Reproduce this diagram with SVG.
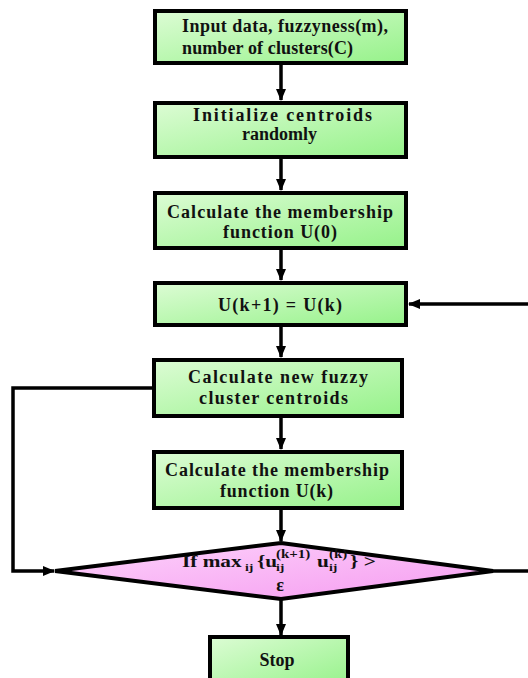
<svg xmlns="http://www.w3.org/2000/svg" width="528" height="678" viewBox="0 0 528 678">
<defs>
<linearGradient id="g" x1="0" y1="0" x2="1" y2="1">
<stop offset="0" stop-color="#dcfcd4"/>
<stop offset="1" stop-color="#96f28a"/>
</linearGradient>
<linearGradient id="p" x1="0" y1="0" x2="1" y2="1">
<stop offset="0" stop-color="#fdd2fb"/>
<stop offset="1" stop-color="#f59cf0"/>
</linearGradient>
<marker id="a" markerWidth="12" markerHeight="10" refX="11" refY="5" orient="auto" markerUnits="userSpaceOnUse">
<path d="M0,0 L12,5 L0,10 Z" fill="#000"/>
</marker>
</defs>
<style>
.box{fill:url(#g);stroke:#000;stroke-width:4}
.dia{fill:url(#p);stroke:#000;stroke-width:4}
.t{font-family:"Liberation Serif","Times New Roman",serif;font-weight:bold;font-size:18px;fill:#111}
.m{font-size:17px}
.s{font-size:11px}
.u{font-size:12px}
.c{text-anchor:middle}
.ln{fill:none;stroke:#000;stroke-width:3.5}
</style>
<g id="connectors">
<line class="ln" x1="281" y1="63" x2="281" y2="100" marker-end="url(#a)"/>
<line class="ln" x1="281" y1="157" x2="281" y2="190" marker-end="url(#a)"/>
<line class="ln" x1="281" y1="248" x2="281" y2="280" marker-end="url(#a)"/>
<line class="ln" x1="281" y1="325" x2="281" y2="357" marker-end="url(#a)"/>
<line class="ln" x1="281" y1="416" x2="281" y2="449" marker-end="url(#a)"/>
<line class="ln" x1="281" y1="508" x2="281" y2="541" marker-end="url(#a)"/>
<line class="ln" x1="281" y1="599" x2="281" y2="635" marker-end="url(#a)"/>
<path class="ln" d="M153,388 H13 V571 H54" marker-end="url(#a)"/>
<line class="ln" x1="528" y1="304" x2="409" y2="304" marker-end="url(#a)"/>
<line class="ln" x1="493" y1="571" x2="528" y2="571"/>
</g>
<g id="n1">
<rect class="box" x="155" y="11" width="251" height="52"/>
<text class="t" x="182" y="32" textLength="206" lengthAdjust="spacing">Input data, fuzzyness(m),</text>
<text class="t" x="182" y="54" textLength="171" lengthAdjust="spacing">number of clusters(C)</text>
</g>
<g id="n2">
<rect class="box" x="155" y="103" width="251" height="54"/>
<text class="t" x="193" y="121" textLength="179" lengthAdjust="spacing">Initialize centroids</text>
<text class="t" x="242" y="140" textLength="75" lengthAdjust="spacing">randomly</text>
</g>
<g id="n3">
<rect class="box" x="155" y="193" width="251" height="55"/>
<text class="t" x="167" y="218" textLength="226" lengthAdjust="spacing">Calculate the membership</text>
<text class="t" x="223" y="238" textLength="114" lengthAdjust="spacing">function U(0)</text>
</g>
<g id="n4">
<rect class="box" x="155" y="283" width="251" height="42"/>
<text class="t" x="218" y="311" textLength="124" lengthAdjust="spacing">U(k+1) = U(k)</text>
</g>
<g id="n5">
<rect class="box" x="154" y="360" width="248" height="56"/>
<text class="t" x="188" y="383" textLength="180" lengthAdjust="spacing">Calculate new fuzzy</text>
<text class="t" x="199" y="404" textLength="149" lengthAdjust="spacing">cluster centroids</text>
</g>
<g id="n6">
<rect class="box" x="154" y="452" width="248" height="56"/>
<text class="t" x="165" y="476" textLength="224" lengthAdjust="spacing">Calculate the membership</text>
<text class="t" x="220" y="497" textLength="113" lengthAdjust="spacing">function U(k)</text>
</g>
<g id="n7">
<polygon class="dia" points="281,543 493,571 281,599 55,571"/>
<text class="t m" transform="translate(182,0) scale(1.25,1)"><tspan x="0" y="567">If max</tspan><tspan class="s" x="50.4" y="571">ij</tspan><tspan x="60" y="567">{u</tspan><tspan class="s" x="75.2" y="571">ij</tspan><tspan class="u" x="75.2" y="558">(k+1)</tspan><tspan x="108" y="567">u</tspan><tspan class="s" x="117.6" y="571">ij</tspan><tspan class="u" x="117.6" y="558">(k)</tspan><tspan x="134.4" y="567">} &gt;</tspan></text>
<text class="t c" x="280" y="591">ε</text>
</g>
<g id="n8">
<rect class="box" x="210" y="637" width="138" height="50"/>
<text class="t c" x="277" y="666">Stop</text>
</g>
</svg>
